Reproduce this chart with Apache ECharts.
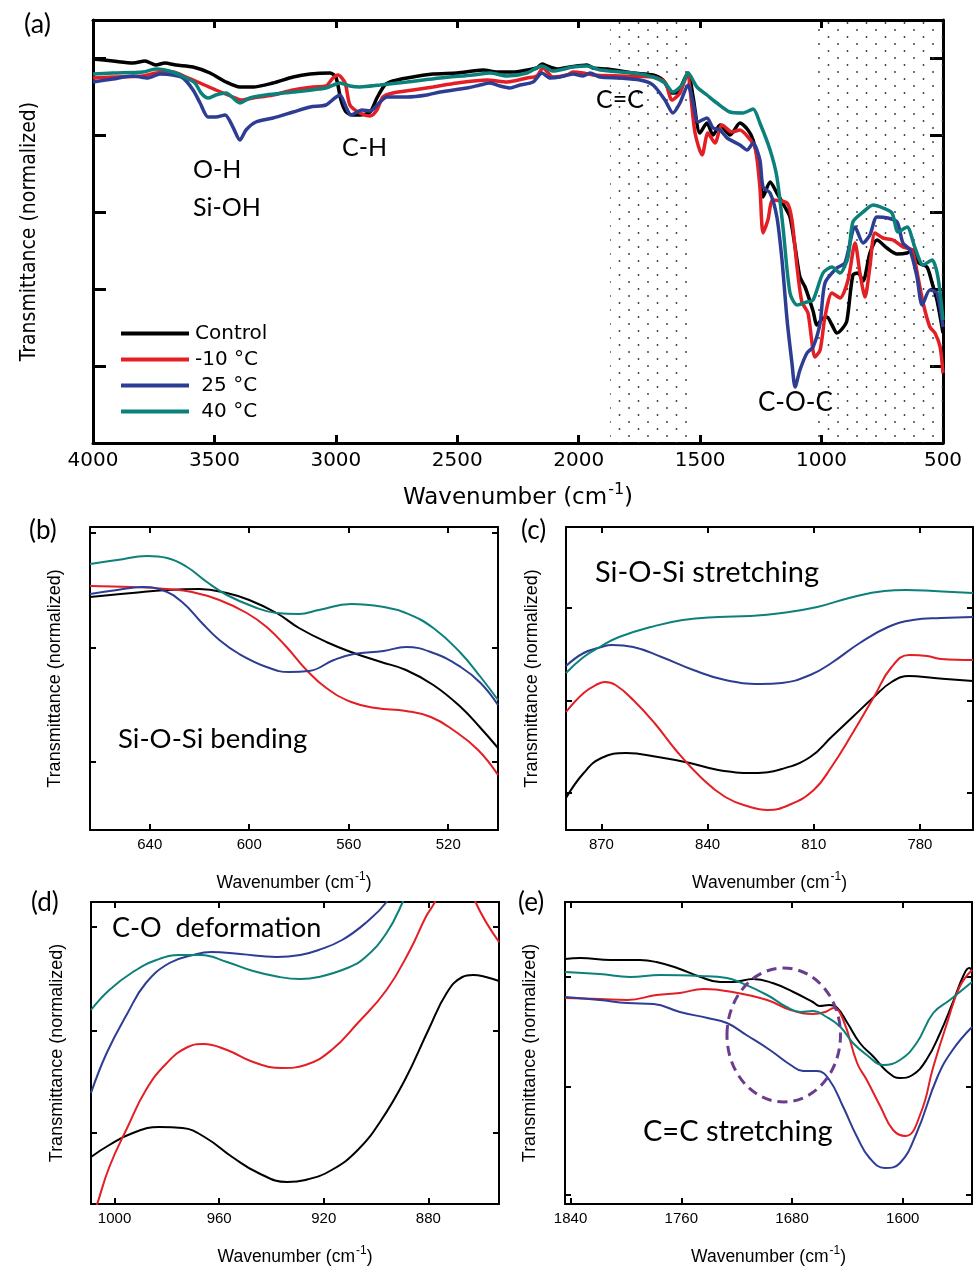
<!DOCTYPE html>
<html>
<head>
<meta charset="UTF-8">
<title>FTIR spectra</title>
<script src="https://cdn.jsdelivr.net/npm/echarts@6/dist/echarts.min.js"></script>
<style>
html,body{margin:0;padding:0;background:#fff;}
#main{width:976px;height:1267px;}
</style>
</head>
<body>
<div id="main"></div>
<script type="text/javascript">
// series names / colours
var names = ['Control', '-10 \u00B0C', ' 25 \u00B0C', ' 40 \u00B0C'];
var colors = ['#000000', '#e31e24', '#2d3d94', '#0c807a'];

// ---- (a) full spectrum: [wavenumber, transmittance] ----
var aCtrl = [[4000,384],[3918,382],[3835,380],[3786,382],[3741,378],[3704,380],[3658,378],[3588,376],[3518,370],[3452,361],[3395,356],[3341,356],[3259,360],[3176,366],[3106,369],[3024,370],[3000,366],[2979,343],[2958,331],[2929,328],[2901,328],[2859,331],[2831,345],[2798,358],[2765,362],[2707,365],[2600,369],[2501,370],[2394,373],[2336,371],[2271,371],[2213,373],[2172,375],[2151,379],[2131,377],[2089,374],[2036,376],[1966,378],[1941,375],[1884,374],[1776,370],[1694,368],[1653,363],[1616,350],[1591,351],[1550,370],[1529,346],[1501,310],[1472,320],[1447,308],[1418,318],[1377,308],[1336,320],[1303,313],[1282,303],[1254,273],[1241,246],[1212,261],[1184,250],[1151,236],[1130,226],[1109,196],[1089,166],[1068,156],[1035,132],[1019,118],[998,124],[978,126],[957,118],[937,110],[916,114],[896,122],[871,168],[850,170],[829,162],[801,190],[772,203],[731,195],[689,189],[648,190],[624,193],[600,180],[566,176],[545,160],[525,143],[500,110]];
var aM10 = [[4000,365],[3918,366],[3794,367],[3741,370],[3671,371],[3617,366],[3559,360],[3494,353],[3424,346],[3391,343],[3341,345],[3259,348],[3176,353],[3094,356],[3041,357],[3012,365],[2991,368],[2962,360],[2942,338],[2901,330],[2859,327],[2831,333],[2806,346],[2765,350],[2682,353],[2600,356],[2501,360],[2378,363],[2295,361],[2213,365],[2172,367],[2147,375],[2106,366],[2048,368],[2024,371],[1982,370],[1941,368],[1830,367],[1694,366],[1645,361],[1616,343],[1583,350],[1554,368],[1521,310],[1492,288],[1468,310],[1439,300],[1410,318],[1369,311],[1336,313],[1303,306],[1274,296],[1254,256],[1241,210],[1221,223],[1200,243],[1142,240],[1122,223],[1101,176],[1081,141],[1056,130],[1027,86],[1006,93],[986,126],[957,150],[924,145],[891,163],[862,200],[842,170],[821,146],[801,176],[780,210],[747,205],[706,203],[665,196],[628,193],[603,166],[582,140],[554,116],[533,110],[512,96],[500,70]];
var a25 = [[4000,361],[3918,364],[3835,367],[3774,365],[3724,369],[3671,368],[3629,365],[3588,353],[3559,340],[3526,326],[3494,326],[3456,328],[3424,316],[3395,303],[3370,313],[3329,321],[3259,325],[3176,331],[3106,336],[3041,338],[3004,345],[2983,348],[2958,336],[2938,328],[2892,333],[2859,332],[2818,341],[2789,346],[2707,346],[2625,348],[2571,351],[2460,355],[2406,358],[2365,360],[2324,357],[2283,355],[2242,358],[2188,361],[2151,370],[2118,365],[2077,366],[2024,369],[1982,367],[1954,370],[1912,366],[1830,365],[1748,363],[1694,358],[1645,343],[1612,330],[1583,340],[1550,358],[1529,340],[1509,321],[1472,325],[1447,315],[1418,313],[1389,305],[1336,298],[1307,293],[1282,300],[1254,283],[1241,256],[1212,250],[1184,226],[1163,183],[1142,123],[1122,80],[1109,56],[1089,73],[1060,90],[1035,96],[1006,120],[986,160],[937,175],[904,180],[862,216],[829,200],[801,208],[772,226],[727,225],[689,221],[665,200],[636,193],[607,166],[586,138],[554,153],[525,150],[500,116]];
var a40 = [[4000,369],[3918,370],[3794,371],[3741,374],[3671,371],[3617,365],[3580,360],[3555,350],[3526,345],[3494,348],[3452,350],[3395,340],[3354,345],[3288,348],[3176,351],[3041,355],[2983,360],[2942,357],[2901,356],[2818,358],[2707,361],[2571,365],[2435,368],[2365,370],[2295,367],[2213,370],[2151,377],[2106,372],[2024,376],[1966,377],[1912,373],[1776,370],[1694,366],[1645,360],[1612,351],[1575,358],[1550,370],[1513,356],[1472,348],[1431,340],[1377,331],[1324,330],[1282,334],[1254,320],[1212,293],[1184,266],[1159,216],[1130,150],[1101,138],[1060,141],[1035,143],[994,170],[957,176],[924,170],[891,186],[871,221],[829,231],[788,238],[747,235],[710,230],[685,211],[648,216],[615,195],[582,178],[545,183],[521,166],[500,123]];

// ---- (b) Si-O-Si bending ----
var bCtrl = [[664,233],[647,237],[633,240],[620,241],[609,237],[600,230],[589,217],[580,202],[569,188],[558,177],[547,168],[537,160],[526,145],[515,123],[507,102],[500,82]];
var bM10 = [[664,244],[647,243],[633,241],[623,238],[612,230],[601,217],[593,203],[585,183],[577,160],[569,142],[559,128],[549,122],[537,119],[527,113],[518,100],[508,80],[500,55]];
var b25 = [[664,236],[653,240],[643,243],[635,240],[627,228],[619,207],[612,190],[604,176],[593,163],[584,158],[576,159],[566,170],[558,176],[546,179],[537,183],[526,177],[515,163],[507,147],[500,125]];
var b40 = [[664,266],[653,270],[641,274],[633,272],[625,263],[617,248],[609,235],[598,223],[589,217],[580,216],[572,220],[559,226],[546,223],[537,217],[526,202],[515,177],[507,153],[500,130]];

// ---- (c) Si-O-Si stretching ----
var cCtrl = [[880,32],[875,57],[870,72],[863,77],[854,73],[845,67],[837,60],[827,57],[819,61],[811,73],[805,93],[799,113],[793,133],[788,148],[783,154],[776,152],[765,149]];
var cM10 = [[880,118],[875,137],[871,146],[869,148],[866,145],[861,130],[855,107],[849,80],[842,53],[835,33],[828,23],[823,20],[817,25],[810,40],[805,63],[799,97],[793,133],[788,163],[783,175],[778,174],[774,171],[765,170]];
var c25 = [[880,164],[875,177],[870,183],[867,185],[861,183],[853,173],[844,160],[835,150],[825,146],[819,147],[811,155],[805,167],[797,187],[789,203],[782,210],[774,212],[765,213]];
var c40 = [[880,157],[875,173],[870,184],[865,193],[856,203],[847,210],[837,213],[828,214],[819,217],[809,223],[800,232],[790,239],[784,240],[776,239],[765,237]];

// ---- (d) C-O deformation ----
var dCtrl = [[1009,47],[1002,59],[993,71],[983,77],[974,76],[965,66],[955,47],[945,31],[934,22],[927,24],[917,34],[907,54],[898,84],[889,124],[880,174],[873,211],[867,227],[863,229],[858,227],[853,223]];
var dM10 = [[1012,-40],[1007,-3],[1002,37],[995,77],[988,114],[980,141],[972,157],[966,160],[957,154],[947,142],[936,136],[927,139],[917,154],[907,181],[896,214],[887,254],[881,287],[877,305],[870,360],[862,302],[853,262]];
var d25 = [[1009,111],[1003,151],[995,191],[988,221],[979,241],[970,249],[963,252],[952,250],[938,247],[929,249],[922,254],[913,264],[904,281],[896,302],[890,330]];
var d40 = [[1009,194],[1002,214],[993,232],[984,244],[975,249],[967,249],[957,242],[947,233],[937,227],[929,225],[922,227],[911,236],[904,247],[896,271],[890,301],[884,340]];

// ---- (e) C=C stretching ----
var eCtrl = [[1844,245],[1833,246],[1811,244],[1790,244],[1778,242],[1763,236],[1746,227],[1732,222],[1723,222],[1708,225],[1694,221],[1679,212],[1665,202],[1660,198],[1653,199],[1648,197],[1640,181],[1631,161],[1621,147],[1611,132],[1602,126],[1593,129],[1583,144],[1573,171],[1564,201],[1556,229],[1552,236],[1550,234]];
var eM10 = [[1844,206],[1819,205],[1799,204],[1778,209],[1761,211],[1744,215],[1723,212],[1698,204],[1681,194],[1665,190],[1656,192],[1650,196],[1643,184],[1633,141],[1626,124],[1616,97],[1607,74],[1598,68],[1587,91],[1578,137],[1568,181],[1559,217],[1550,234]];
var e25 = [[1844,207],[1819,204],[1799,201],[1780,200],[1761,192],[1741,186],[1727,181],[1713,169],[1696,154],[1681,139],[1672,133],[1662,133],[1653,124],[1643,97],[1633,67],[1624,46],[1613,36],[1602,41],[1590,71],[1575,127],[1564,154],[1550,177]];
var e40 = [[1844,232],[1819,230],[1797,227],[1775,229],[1746,228],[1727,226],[1718,222],[1698,209],[1684,197],[1674,192],[1665,193],[1655,187],[1645,177],[1636,161],[1626,149],[1614,139],[1602,144],[1590,161],[1578,191],[1566,204],[1550,222]];

// tick values
var aXTicks = 500;      // interval on (a)
var bXTicks = [520, 560, 600, 640];
var cXTicks = [780, 810, 840, 870];
var dXTicks = [880, 920, 960, 1000];
var eXTicks = [1600, 1680, 1760, 1840];
var bYTicks = [68, 182, 297];
var cYTicks = [37, 129, 222];
var dYTicks = [71, 173, 277];
var eYTicks = [9, 117, 227];

// shaded bands in (a) and the circled region in (e)
var bandsA = [[1871, 1538], [1035, 500]];
var circleE = {x: 1686, y: 169, rx: 41, ry: 67};

// dotted fill for the bands
var pat = document.createElement('canvas');
pat.width = 19; pat.height = 14;
var pctx = pat.getContext('2d');
pctx.fillStyle = '#333';
[[2, 2], [11.5, 9]].forEach(function (p) {
	pctx.beginPath(); pctx.arc(p[0], p[1], 0.9, 0, Math.PI * 2); pctx.fill();
});

var grids = [
	{left: 93, top: 20, width: 850, height: 423},
	{left: 90, top: 527, width: 408, height: 303},
	{left: 566, top: 527, width: 407, height: 303},
	{left: 91, top: 902, width: 408, height: 302},
	{left: 565, top: 902, width: 407, height: 302}
];

var xAxes = [], yAxes = [];
var labelFont = 'Liberation Sans, Arial, sans-serif';
var wideFont = 'DejaVu Sans, Verdana, sans-serif';
var narrowFont = 'Liberation Sans Narrow, DejaVu Sans Condensed, Arial Narrow, sans-serif';

function addAxes(gi, c) {
	var lw = c.lw;
	var xb = {
		type: 'value', gridIndex: gi, position: 'bottom', inverse: true, min: c.xmin, max: c.xmax,
		axisLine: {show: true, onZero: false, lineStyle: {color: '#000', width: lw}},
		axisTick: {show: true, inside: true, length: c.xtl, lineStyle: {color: '#000', width: lw}},
		axisLabel: {show: true, color: '#000', fontSize: c.lfs, fontFamily: c.lff, margin: c.lm,
			formatter: function (v) { return String(v); }},
		splitLine: {show: false},
		name: '{n|Wavenumber (cm}{s|-1}{n|)}', nameLocation: 'middle', nameGap: c.ng,
		nameTextStyle: {color: '#000', fontSize: c.nfs, fontFamily: c.lff,
			rich: {
				n: {fontSize: c.nfs, fontFamily: c.lff, color: '#000', verticalAlign: 'bottom'},
				s: {fontSize: Math.round(c.nfs * 0.68), fontFamily: c.lff, color: '#000', verticalAlign: 'bottom',
					padding: [0, 0, Math.round(c.nfs * 0.5), 1]}
			}}
	};
	var xt = {
		type: 'value', gridIndex: gi, position: 'top', inverse: true, min: c.xmin, max: c.xmax,
		axisLine: {show: true, onZero: false, lineStyle: {color: '#000', width: lw}},
		axisTick: {show: true, inside: true, length: c.xtl, lineStyle: {color: '#000', width: lw}},
		axisLabel: {show: false},
		splitLine: {show: false}
	};
	if (c.xint) { xb.interval = c.xint; xt.interval = c.xint; } else {
		xb.axisTick.customValues = c.xticks;
		xb.axisLabel.customValues = c.xticks;
		xt.axisTick.customValues = c.xticks;
	}
	xAxes.push(xb, xt);

	var yl = {
		type: 'value', gridIndex: gi, position: 'left', min: 0, max: c.ymax,
		axisLine: {show: true, onZero: false, lineStyle: {color: '#000', width: lw}},
		axisTick: {show: true, inside: true, length: c.ytl, lineStyle: {color: '#000', width: lw}},
		axisLabel: {show: false},
		splitLine: {show: false},
		name: 'Transmittance (normalized)', nameLocation: 'middle', nameRotate: 90, nameGap: c.yng,
		nameTextStyle: {color: '#000', fontSize: c.yfs, fontFamily: c.yff}
	};
	if (c.yint) { yl.interval = c.yint; } else { yl.axisTick.customValues = c.yticks; }
	var yr = JSON.parse(JSON.stringify(yl));
	yr.position = 'right'; delete yr.name;
	yAxes.push(yl, yr);
}

addAxes(0, {lw: 3, xmin: 500, xmax: 4000, xint: aXTicks, xtl: 8, lfs: 20, lff: wideFont, lm: 8, ng: 39, nfs: 23,
	ymax: 423, yint: 77, ytl: 13, yng: 53, yfs: 21, yff: narrowFont});
addAxes(1, {lw: 2, xmin: 500, xmax: 664, xticks: bXTicks, xtl: 6, lfs: 15, lff: labelFont, lm: 7, ng: 41, nfs: 17.5,
	ymax: 303, yticks: bYTicks, ytl: 6, yng: 26, yfs: 18, yff: labelFont});
addAxes(2, {lw: 2, xmin: 765, xmax: 880, xticks: cXTicks, xtl: 6, lfs: 15, lff: labelFont, lm: 7, ng: 41, nfs: 17.5,
	ymax: 303, yticks: cYTicks, ytl: 6, yng: 25, yfs: 18, yff: labelFont});
addAxes(3, {lw: 2, xmin: 853, xmax: 1009, xticks: dXTicks, xtl: 6, lfs: 15, lff: labelFont, lm: 7, ng: 41, nfs: 17.5,
	ymax: 302, yticks: dYTicks, ytl: 6, yng: 25, yfs: 18, yff: labelFont});
addAxes(4, {lw: 2, xmin: 1550, xmax: 1844, xticks: eXTicks, xtl: 6, lfs: 15, lff: labelFont, lm: 7, ng: 41, nfs: 17.5,
	ymax: 302, yticks: eYTicks, ytl: 6, yng: 26, yfs: 18, yff: labelFont});

var panelData = [
	[aCtrl, aM10, a25, a40],
	[bCtrl, bM10, b25, b40],
	[cCtrl, cM10, c25, c40],
	[dCtrl, dM10, d25, d40],
	[eCtrl, eM10, e25, e40]
];

var series = [];
panelData.forEach(function (set, gi) {
	set.forEach(function (d, si) {
		var s = {
			type: 'line', name: names[si], data: d,
			xAxisIndex: gi * 2, yAxisIndex: gi * 2,
			showSymbol: false, symbol: 'none', clip: true,
			smooth: gi == 0 ? 0.25 : 0.45,
			lineStyle: {color: colors[si], width: gi == 0 ? 3.5 : 2},
			itemStyle: {color: colors[si]},
			emphasis: {disabled: true}
		};
		if (gi == 0 && si == 0) {
			s.markArea = {
				silent: true,
				itemStyle: {color: {image: pat, repeat: 'repeat'}},
				data: bandsA.map(function (b) { return [{xAxis: b[0]}, {xAxis: b[1]}]; })
			};
		}
		series.push(s);
	});
});

var myChart = echarts.init(document.getElementById('main'));
myChart.setOption({
	animation: false,
	backgroundColor: '#fff',
	grid: grids,
	xAxis: xAxes,
	yAxis: yAxes,
	legend: {
		data: names, orient: 'vertical', left: 116, top: 318,
		icon: 'rect', itemWidth: 68, itemHeight: 4, itemGap: 5,
		textStyle: {color: '#000', fontSize: 20, fontFamily: wideFont, lineHeight: 21, padding: [0, 0, 0, 1]},
		selectedMode: false
	},
	series: series
});

// annotations
var annFont = 'Lato, Open Sans, sans-serif';
function txt(t, x, y, size) {
	return {type: 'text', x: x, y: y, z: 100,
		style: {text: t, fill: '#000', font: size + 'px ' + annFont, verticalAlign: 'middle', align: 'left'}};
}
var c0 = myChart.convertToPixel({xAxisIndex: 8, yAxisIndex: 8}, [circleE.x, circleE.y]);
var c1 = myChart.convertToPixel({xAxisIndex: 8, yAxisIndex: 8}, [circleE.x - circleE.rx, circleE.y + circleE.ry]);
var graphics = [
	txt('(a)', 24, 24, 27),
	txt('O-H', 193, 170, 25),
	txt('Si-OH', 193, 208, 25),
	txt('C-H', 342, 148, 25),
	txt('C=C', 596, 100, 25),
	txt('C-O-C', 758, 403, 26),
	txt('(b)', 29, 531, 26),
	txt('Si-O-Si bending', 118, 739, 27.5),
	txt('(c)', 521, 531, 26),
	txt('Si-O-Si stretching', 595, 573, 29),
	txt('(d)', 31, 903, 26),
	txt('C-O  deformation', 112, 928, 27),
	txt('(e)', 518, 903, 26),
	txt('C=C stretching', 643, 1132, 29),
	{type: 'ellipse', z: 100,
		shape: {cx: c0[0], cy: c0[1], rx: Math.abs(c1[0] - c0[0]), ry: Math.abs(c1[1] - c0[1])},
		style: {fill: 'none', stroke: '#6b3d8f', lineWidth: 3, lineDash: [10, 6]}}
];
myChart.setOption({graphic: graphics});
</script>
</body>
</html>
